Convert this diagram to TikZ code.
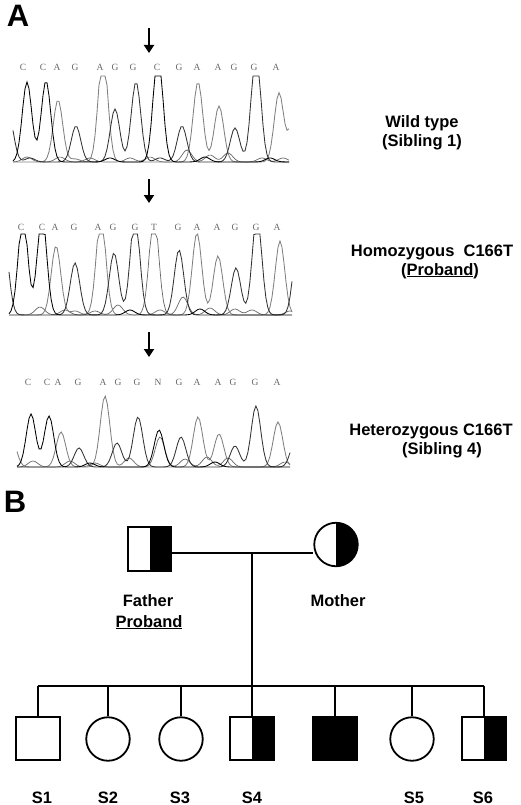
\documentclass[tikz,border=0pt]{standalone}
\usepackage{fontspec}
\setmainfont{Liberation Sans}
\newfontfamily\seqfont{Liberation Serif}
\usetikzlibrary{arrows.meta}
\begin{document}
\begin{tikzpicture}[x=1pt,y=-1pt,
  declare function={pk(\ptx,\ptc,\pth)=\pth*exp(-min(9,((\ptx-\ptc)/6.7)^2));},
  lablbl/.style={font=\fontsize{16.5}{19}\selectfont\bfseries, inner sep=0pt, anchor=base},
  panellbl/.style={font=\fontsize{31}{31}\selectfont\bfseries, inner sep=0pt, anchor=base},
  seqlet/.style={font=\fontsize{9.5}{10}\selectfont\seqfont, text=black!60, inner sep=0pt},
  pointer/.style={line width=2pt, -{Triangle[width=10pt,length=8pt]}},
  trC/.style={black, line width=0.85pt},
  trA/.style={black!50, line width=0.85pt},
  trG/.style={black!80, line width=0.85pt},
  trT/.style={black!60, line width=0.7pt},
  pedline/.style={line width=1.8pt},
  malebox/.style={draw, line width=1.8pt, minimum size=43.5pt, inner sep=0pt, rectangle},
  femalecirc/.style={draw, line width=1.8pt, minimum size=43.5pt, inner sep=0pt, circle},
  halfshade/.style={path picture={\fill[black] (path picture bounding box.north) rectangle (path picture bounding box.south east);}},
  fullshade/.style={fill=black}
]
\useasboundingbox (0,0) rectangle (520,805);

% ---------------- Panel A ----------------
\node[panellbl] (labA) at (18,27) {A};

% Row 1: wild type
\coordinate (a1s) at (149,28); \coordinate (a1e) at (149,53);
\draw[pointer] (a1s) -- (a1e);
\foreach \b/\px in {C/23,C/43,A/57,G/75,A/100,G/115,G/133,C/157,G/179,A/197,A/218,G/234,G/254,A/276}
  \node[seqlet] at (\px,67) {\b};
\draw[trT] plot[domain=13:289, samples=139] (\x, {max(76, 162-(pk(\x,27,5)+pk(\x,60,5)+pk(\x,90,4)+pk(\x,130,4)+pk(\x,150,5)+pk(\x,187,12)+pk(\x,210,7)+pk(\x,228,9)+pk(\x,262,4)+pk(\x,283,4)))});
\draw[trA] plot[domain=13:289, samples=139] (\x, {max(76, 162-(pk(\x,58,62)+pk(\x,103,110)+pk(\x,198,80)+pk(\x,219,56)+pk(\x,279,69)+pk(\x,294,45)+pk(\x,75,3)))});
\draw[trG] plot[domain=13:289, samples=139] (\x, {max(76, 162-(pk(\x,9,45)+pk(\x,76,36)+pk(\x,115,53)+pk(\x,136,80)+pk(\x,182,36)+pk(\x,235,34)+pk(\x,256,110)+pk(\x,30,4)+pk(\x,160,4)))});
\draw[trC] plot[domain=13:289, samples=139] (\x, {max(76, 162-(pk(\x,27,80)+pk(\x,46,81)+pk(\x,158,110)+pk(\x,110,4)+pk(\x,205,5)+pk(\x,270,4)))});
\node[lablbl] (wt) at (422,128) {Wild type};
\node[lablbl] (wt2) at (422,147) {(Sibling 1)};

% Row 2: homozygous
\coordinate (a2s) at (149,179); \coordinate (a2e) at (149,203);
\draw[pointer] (a2s) -- (a2e);
\foreach \b/\px in {C/21,C/42,A/55,G/74,A/98,G/113,G/135,T/154,G/178,A/197,A/217,G/235,G/256,A/277}
  \node[seqlet] at (\px,227) {\b};
\draw[trT] plot[domain=9:292, samples=142] (\x, {max(234, 315-(pk(\x,154,100)+pk(\x,40,8)+pk(\x,65,5)+pk(\x,95,4)+pk(\x,118,10)+pk(\x,183,18)+pk(\x,210,7)+pk(\x,235,6)+pk(\x,252,5)+pk(\x,290,4)))});
\draw[trA] plot[domain=9:292, samples=142] (\x, {max(234, 315-(pk(\x,56,69)+pk(\x,101,100)+pk(\x,197,82)+pk(\x,218,59)+pk(\x,280,74)+pk(\x,75,4)+pk(\x,160,5)))});
\draw[trG] plot[domain=9:292, samples=142] (\x, {max(234, 315-(pk(\x,4,75)+pk(\x,75,52)+pk(\x,114,62)+pk(\x,135,100)+pk(\x,179,65)+pk(\x,236,47)+pk(\x,257,100)+pk(\x,298,75)))});
\draw[trC] plot[domain=9:292, samples=142] (\x, {max(234, 315-(pk(\x,23,100)+pk(\x,42,100)+pk(\x,130,5)+pk(\x,200,6)))});
\node[lablbl] (ho) at (432,256) {Homozygous\ \ C166T};
\node[lablbl] (ho2) at (440,275) {(\underline{Proband})};

% Row 3: heterozygous
\coordinate (a3s) at (149,332); \coordinate (a3e) at (149,357);
\draw[pointer] (a3s) -- (a3e);
\foreach \b/\px in {C/28,C/47,A/58,G/78,A/103,G/118,G/137,N/158,G/179,A/197,A/218,G/233,G/255,A/277}
  \node[seqlet] at (\px,382) {\b};
\draw[trT] plot[domain=17:290, samples=137] (\x, {467-(pk(\x,160,30)+pk(\x,33,6)+pk(\x,70,6)+pk(\x,95,4)+pk(\x,185,8)+pk(\x,207,10)+pk(\x,228,9)+pk(\x,285,5))});
\draw[trA] plot[domain=17:290, samples=137] (\x, {467-(pk(\x,12,27)+pk(\x,61,35)+pk(\x,105,71)+pk(\x,198,50)+pk(\x,219,33)+pk(\x,278,45)+pk(\x,129,9))});
\draw[trG] plot[domain=17:290, samples=137] (\x, {467-(pk(\x,79,19)+pk(\x,117,24)+pk(\x,138,50)+pk(\x,181,30)+pk(\x,235,21)+pk(\x,256,61)+pk(\x,295,25))});
\draw[trC] plot[domain=17:290, samples=137] (\x, {467-(pk(\x,31,53)+pk(\x,49,51)+pk(\x,159,37)+pk(\x,90,4)+pk(\x,215,5))});
\node[lablbl] (he) at (431,435) {Heterozygous C166T};
\node[lablbl] (he2) at (442,454) {(Sibling 4)};

% ---------------- Panel B ----------------
\node[panellbl] (labB) at (15,512) {B};

\node[malebox, halfshade] (father) at (149.5,549) {};
\node[femalecirc, halfshade] (mother) at (336,544.5) {};
\coordinate (mar) at (252,553);
\coordinate (sib) at (252,686);
\draw[pedline] (father.east |- mar) -- (mother.west |- mar);
\draw[pedline] (mar) -- (sib);
\node[lablbl] (fl1) at (148,606) {Father};
\node[lablbl] (fl2) at (149,627) {\underline{Proband}};
\node[lablbl] (ml) at (338,606) {Mother};

\node[malebox] (s1) at (38,738.5) {};
\node[femalecirc] (s2) at (108,739) {};
\node[femalecirc] (s3) at (181,739) {};
\node[malebox, halfshade] (s4) at (252,738.5) {};
\node[malebox, fullshade] (sx) at (335,738.5) {};
\node[femalecirc] (s5) at (412,739) {};
\node[malebox, halfshade] (s6) at (484,738.5) {};

\draw[pedline] (s1.north |- sib) -- (s6.north |- sib);
\foreach \n in {s1,s2,s3,s4,sx,s5,s6}
  \draw[pedline] (\n.north |- sib) -- (\n.north);

\node[lablbl] (t1) at (42,803) {S1};
\node[lablbl] (t2) at (108,803) {S2};
\node[lablbl] (t3) at (180,803) {S3};
\node[lablbl] (t4) at (252,803) {S4};
\node[lablbl] (t5) at (414,803) {S5};
\node[lablbl] (t6) at (483,803) {S6};
\end{tikzpicture}
\end{document}
